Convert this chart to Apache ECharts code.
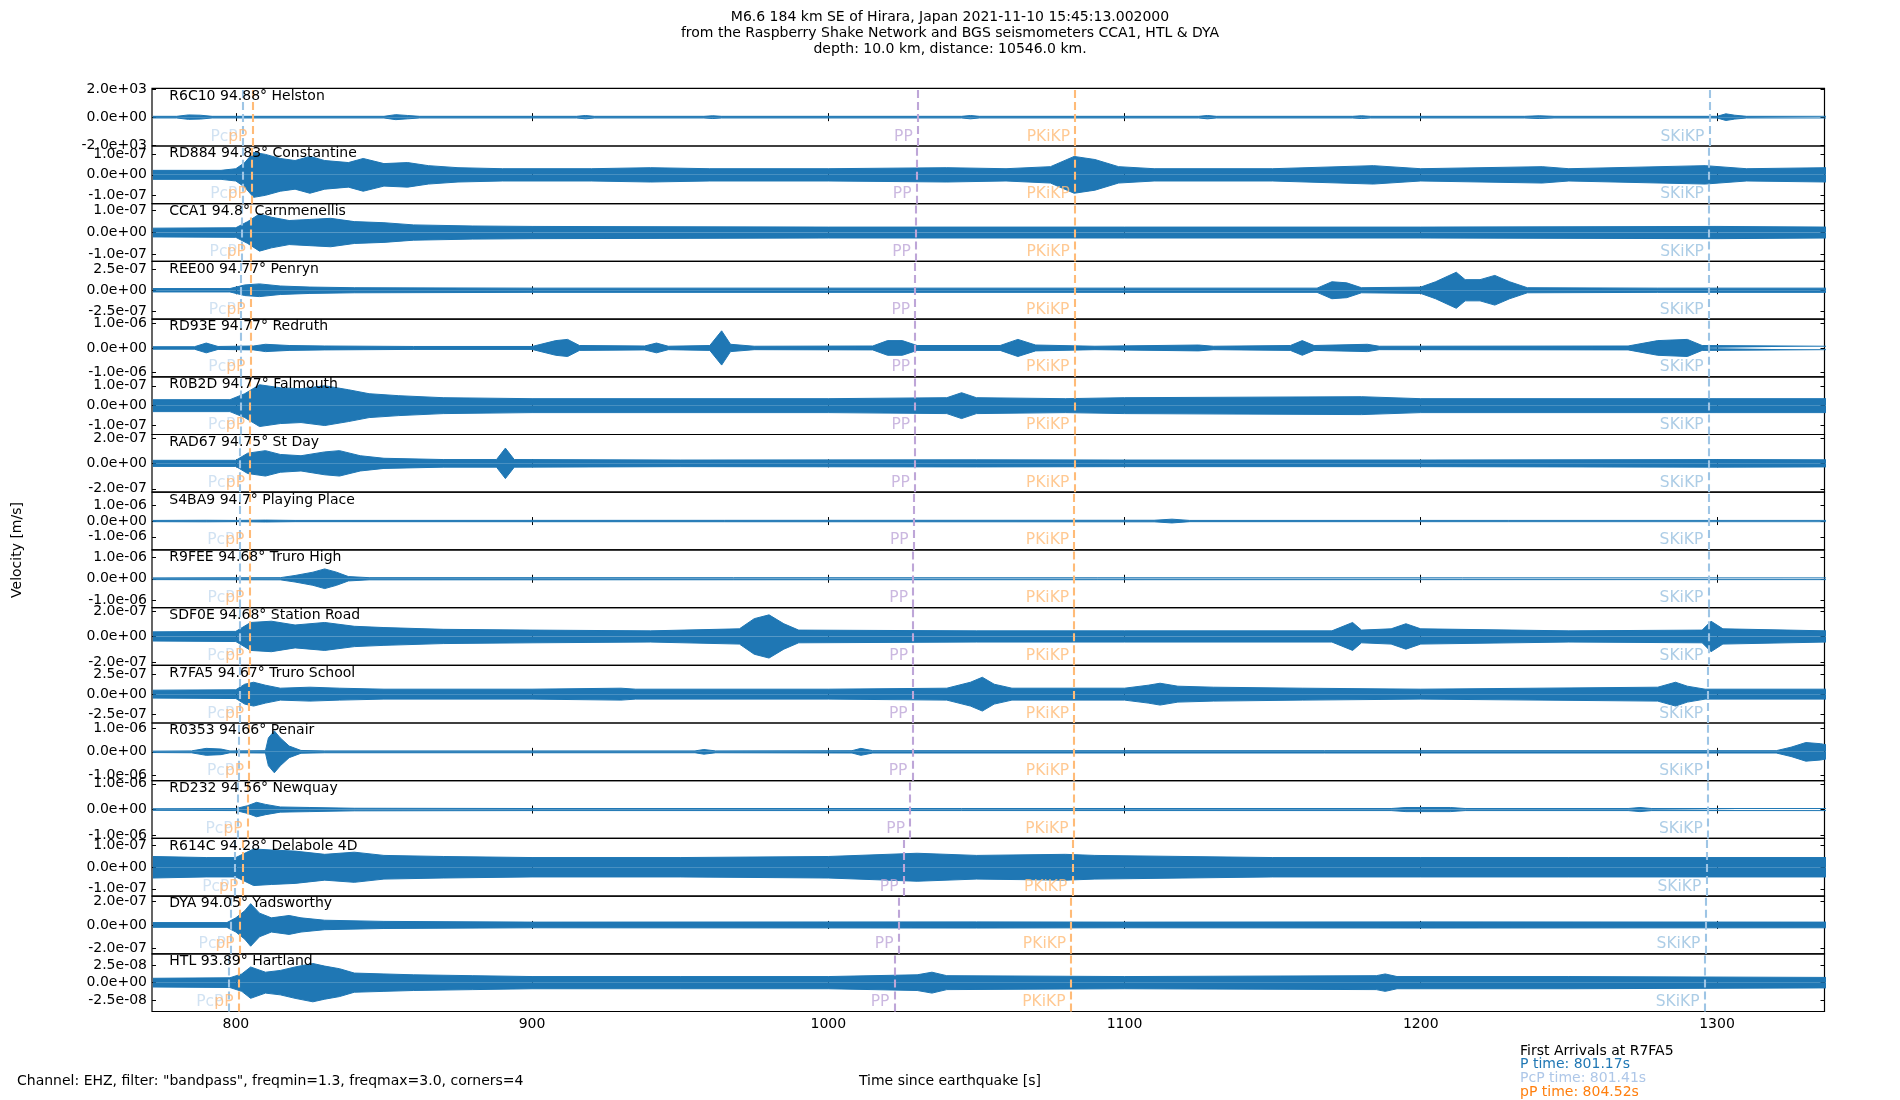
<!DOCTYPE html>
<html><head><meta charset="utf-8">
<script src="https://cdn.jsdelivr.net/npm/echarts@6/dist/echarts.min.js"></script>
<style>html,body{margin:0;padding:0;background:#fff}#c{width:1900px;height:1100px}</style>
</head><body><div id="c"></div>
<script>
// ---------------- data ----------------
const stations = ['R6C10','RD884','CCA1','REE00','RD93E','R0B2D','RAD67','S4BA9','R9FEE','SDF0E','R7FA5','R0353','RD232','R614C','DYA','HTL'];
const distances = ['94.88','94.83','94.8','94.77','94.77','94.77','94.75','94.7','94.68','94.68','94.67','94.66','94.56','94.28','94.05','93.89'];
const places = ['Helston','Constantine','Carnmenellis','Penryn','Redruth','Falmouth','St Day','Playing Place','Truro High','Station Road','Truro School','Penair','Newquay','Delabole 4D','Yadsworthy','Hartland'];
const yTick = [2.0e3,1e-7,1e-7,2.5e-7,1e-6,1e-7,2e-7,1e-6,1e-6,2e-7,2.5e-7,1e-6,1e-6,1e-7,2e-7,2.5e-8];
const yLimit = [2.08e3,1.41e-7,1.32e-7,3.4e-7,1.18e-6,1.45e-7,2.27e-7,1.83e-6,1.32e-6,2.27e-7,3.63e-7,1.24e-6,1.12e-6,1.34e-7,2.44e-7,4.14e-8];
const xTicks = [800,900,1000,1100,1200,1300];
const xRange = [771.7,1336.3];
// arrival times per panel [s]
const tP     = [802.3,802.2,802.0,801.7,801.6,801.5,801.4,801.2,801.3,801.2,801.2,801.1,800.6,799.5,798.3,797.5];
const tpP    = [805.6,805.4,805.1,805.0,804.9,804.8,804.8,804.6,804.6,804.6,804.5,804.5,804.0,802.5,801.3,800.9];
const tPP    = [1030.2,1029.8,1029.6,1029.3,1029.3,1029.3,1029.2,1028.8,1028.6,1028.6,1028.5,1028.4,1027.6,1025.4,1023.7,1022.3];
const tPKiKP = [1083.3,1083.2,1083.2,1083.1,1083.1,1083.1,1083.1,1083.0,1083.0,1083.0,1083.0,1083.0,1082.8,1082.4,1082.0,1081.8];
const tSKiKP = [1297.4,1297.3,1297.3,1297.2,1297.2,1297.2,1297.2,1297.1,1297.1,1297.1,1297.0,1297.0,1296.9,1296.4,1296.1,1295.8];
// trace envelopes: [time s, half-amplitude in units of the panel's tick value]
const envR6C10 = [[772,0.03],[780,0.03],[784,0.08],[788,0.07],[792,0.03],[850,0.03],[854,0.09],[858,0.06],[862,0.03],[915,0.03],[918,0.06],[921,0.03],[958,0.03],[961,0.05],[964,0.03],[1045,0.03],[1048,0.06],[1051,0.03],[1125,0.03],[1128,0.06],[1131,0.03],[1177,0.03],[1180,0.05],[1183,0.03],[1235,0.03],[1240,0.05],[1245,0.03],[1300,0.03],[1303,0.12],[1306,0.07],[1310,0.03],[1337,0.03]];
const envRD884 = [[772,0.22],[795,0.22],[800,0.3],[803,0.6],[806,1.1],[810,1.0],[815,0.8],[820,0.7],[825,0.9],[830,0.7],[838,0.6],[843,0.8],[850,0.55],[858,0.6],[865,0.45],[875,0.35],[890,0.3],[920,0.3],[940,0.35],[960,0.3],[1000,0.3],[1040,0.35],[1060,0.3],[1075,0.4],[1083,0.9],[1090,0.75],[1098,0.4],[1110,0.3],[1150,0.3],[1184,0.45],[1200,0.3],[1241,0.4],[1250,0.3],[1296,0.45],[1310,0.3],[1337,0.35]];
const envCCA1 = [[772,0.2],[800,0.22],[804,0.5],[808,0.85],[812,0.7],[818,0.55],[825,0.6],[832,0.65],[840,0.5],[850,0.45],[860,0.35],[880,0.3],[900,0.28],[1000,0.25],[1100,0.25],[1200,0.25],[1300,0.28],[1337,0.25]];
const envREE00 = [[772,0.08],[798,0.08],[803,0.25],[808,0.3],[815,0.2],[825,0.15],[840,0.12],[900,0.1],[1000,0.1],[1100,0.1],[1165,0.1],[1170,0.4],[1175,0.35],[1180,0.12],[1200,0.15],[1205,0.4],[1212,0.85],[1215,0.5],[1220,0.5],[1225,0.7],[1230,0.4],[1236,0.12],[1280,0.1],[1337,0.1]];
const envRD93E = [[772,0.05],[786,0.05],[790,0.2],[794,0.06],[806,0.08],[810,0.15],[818,0.1],[830,0.08],[860,0.06],[900,0.06],[908,0.3],[912,0.35],[916,0.1],[938,0.08],[942,0.2],[946,0.07],[960,0.1],[964,0.7],[967,0.15],[975,0.07],[1015,0.08],[1020,0.3],[1025,0.3],[1030,0.1],[1058,0.1],[1064,0.35],[1070,0.12],[1090,0.07],[1125,0.12],[1130,0.07],[1156,0.1],[1160,0.3],[1164,0.1],[1182,0.15],[1186,0.07],[1270,0.08],[1280,0.3],[1290,0.35],[1295,0.1],[1337,0.07]];
const envR0B2D = [[772,0.3],[798,0.3],[803,0.6],[808,1.05],[815,0.9],[822,0.85],[830,1.0],[838,0.8],[845,0.6],[855,0.5],[870,0.4],[900,0.35],[1000,0.35],[1040,0.4],[1045,0.65],[1050,0.4],[1080,0.35],[1100,0.4],[1180,0.45],[1200,0.35],[1300,0.35],[1337,0.35]];
const envRAD67 = [[772,0.12],[800,0.12],[804,0.4],[810,0.5],[815,0.35],[822,0.3],[830,0.45],[835,0.5],[842,0.3],[850,0.2],[870,0.15],[888,0.15],[891,0.6],[894,0.15],[950,0.13],[1050,0.14],[1100,0.13],[1200,0.13],[1300,0.15],[1337,0.14]];
const envS4BA9 = [[772,0.04],[790,0.05],[800,0.04],[810,0.06],[820,0.04],[1110,0.05],[1116,0.12],[1122,0.04],[1337,0.04]];
const envR9FEE = [[772,0.04],[815,0.05],[820,0.15],[826,0.3],[830,0.45],[834,0.3],[838,0.1],[845,0.05],[1337,0.04]];
const envSDF0E = [[772,0.18],[800,0.2],[805,0.55],[812,0.6],[820,0.45],[830,0.55],[840,0.4],[850,0.35],[870,0.28],[900,0.25],[940,0.22],[970,0.3],[975,0.7],[980,0.85],[985,0.5],[990,0.25],[1050,0.22],[1100,0.22],[1170,0.22],[1177,0.55],[1180,0.25],[1190,0.3],[1195,0.5],[1200,0.3],[1250,0.22],[1295,0.25],[1298,0.6],[1302,0.3],[1337,0.22]];
const envR7FA5 = [[772,0.2],[800,0.22],[803,0.5],[806,0.6],[810,0.45],[815,0.3],[825,0.35],[835,0.3],[850,0.25],[900,0.25],[930,0.3],[935,0.25],[1000,0.25],[1040,0.3],[1048,0.6],[1052,0.85],[1056,0.5],[1062,0.3],[1100,0.3],[1108,0.45],[1112,0.55],[1118,0.4],[1130,0.35],[1160,0.3],[1200,0.25],[1280,0.35],[1286,0.6],[1290,0.4],[1296,0.25],[1337,0.25]];
const envR0353 = [[772,0.03],[785,0.04],[790,0.15],[795,0.12],[798,0.04],[810,0.05],[811,0.6],[813,0.9],[815,0.6],[818,0.25],[822,0.06],[830,0.04],[955,0.04],[958,0.1],[962,0.04],[1008,0.05],[1011,0.15],[1015,0.05],[1320,0.05],[1325,0.2],[1330,0.4],[1335,0.35],[1337,0.3]];
const envRD232 = [[772,0.03],[800,0.04],[804,0.15],[807,0.28],[810,0.2],[815,0.1],[825,0.08],[840,0.05],[900,0.04],[1190,0.04],[1195,0.08],[1210,0.08],[1215,0.04],[1270,0.04],[1274,0.08],[1278,0.04],[1337,0.04]];
const envR614C = [[772,0.5],[790,0.45],[800,0.45],[806,0.85],[812,0.8],[820,0.75],[830,0.6],[840,0.7],[850,0.55],[870,0.5],[900,0.45],[950,0.45],[1000,0.5],[1030,0.65],[1050,0.55],[1080,0.6],[1090,0.55],[1150,0.45],[1200,0.45],[1250,0.45],[1300,0.45],[1337,0.45]];
const envDYA = [[772,0.1],[797,0.1],[800,0.3],[803,0.6],[805,0.9],[808,0.5],[812,0.3],[818,0.4],[822,0.3],[830,0.2],[850,0.15],[900,0.12],[1050,0.13],[1100,0.12],[1200,0.13],[1337,0.12]];
const envHTL = [[772,0.25],[798,0.28],[802,0.5],[805,0.9],[810,0.6],[815,0.7],[820,0.9],[826,1.1],[830,0.95],[835,0.8],[840,0.55],[850,0.5],[860,0.45],[880,0.4],[900,0.35],[950,0.35],[1000,0.35],[1030,0.45],[1035,0.6],[1040,0.4],[1100,0.35],[1185,0.4],[1188,0.5],[1192,0.35],[1250,0.35],[1337,0.3]];
const envelopes = [envR6C10,envRD884,envCCA1,envREE00,envRD93E,envR0B2D,envRAD67,envS4BA9,envR9FEE,envSDF0E,envR7FA5,envR0353,envRD232,envR614C,envDYA,envHTL];
const titleLines = ['M6.6 184 km SE of Hirara, Japan 2021-11-10 15:45:13.002000','from the Raspberry Shake Network and BGS seismometers CCA1, HTL & DYA','depth: 10.0 km, distance: 10546.0 km.'];
const firstArrivals = ['First Arrivals at R7FA5','P time: 801.17s','PcP time: 801.41s','pP time: 804.52s'];

// ---------------- styling / layout ----------------
const FONT = '"DejaVu Sans", sans-serif';
const TRACE = '#1f77b4';
const phaseStyle = {
  P:     {line:'#9ec5e5', label:'#c6dbef', name:'PcP'},
  pP:    {line:'#ffbb78', label:'#ffb773', name:'pP'},
  PP:    {line:'#bea6d8', label:'#bea6d8', name:'PP'},
  PKiKP: {line:'#ffbb78', label:'#ffbb78', name:'PKiKP'},
  SKiKP: {line:'#9ec5e5', label:'#98c0e0', name:'SKiKP'}
};
const L = 152, R = 1824.5, T0 = 88.3, PH = 57.7;
function fmtExp(v){
  if (Math.abs(v) < 1e-30) return '0.0e+00';
  const s = v.toExponential(1).split('e');
  let e = s[1]; const sign = e[0] === '-' ? '-' : '+';
  e = e.replace(/[+-]/,''); if (e.length < 2) e = '0' + e;
  return s[0] + 'e' + sign + e;
}

const grid = [], xAxis = [], yAxis = [], series = [], graphic = [];
for (let i = 0; i < stations.length; i++) {
  const top = T0 + i * PH;
  grid.push({left:L, top:top, width:R-L, height:PH, show:true, borderColor:'#000', borderWidth:1.2, backgroundColor:'transparent'});
  const A = yTick[i], Y = yLimit[i];
  const xBase = {gridIndex:i, type:'value', min:xRange[0], max:xRange[1], axisLine:{show:false}, splitLine:{show:false},
    axisTick:{show:true, inside:true, length:4, customValues:xTicks, lineStyle:{color:'#000', width:1}}};
  xAxis.push(Object.assign({}, xBase, {position:'bottom',
    axisLabel:{show:i===stations.length-1, customValues:xTicks, margin:6, fontSize:14, color:'#000', fontFamily:FONT, formatter: v => String(Math.round(v))}}));
  xAxis.push(Object.assign({}, xBase, {position:'top', axisLabel:{show:false}}));
  const yVals = [-A, 0, A];
  const yBase = {gridIndex:i, type:'value', min:-Y, max:Y, axisLine:{show:false}, splitLine:{show:false},
    axisTick:{show:true, inside:true, length:4, customValues:yVals, lineStyle:{color:'#000', width:1}}};
  yAxis.push(Object.assign({}, yBase, {position:'left',
    axisLabel:{show:true, customValues:yVals, margin:5, fontSize:14, color:'#000', fontFamily:FONT, formatter:fmtExp}}));
  yAxis.push(Object.assign({}, yBase, {position:'right', axisLabel:{show:false}}));
  const xi = 2*i, yi = 2*i;
  const env = envelopes[i];
  const up = env.map(p => [p[0], p[1]*A]);
  const dn = env.map(p => [p[0], -p[1]*A]);
  const lineBase = {type:'line', xAxisIndex:xi, yAxisIndex:yi, symbol:'none', showSymbol:false, silent:true,
    lineStyle:{color:TRACE, width:1}, areaStyle:{color:TRACE, opacity:1, origin:0}, z:2, clip:true};
  const phases = [['P',tP[i]],['pP',tpP[i]],['PP',tPP[i]],['PKiKP',tPKiKP[i]],['SKiKP',tSKiKP[i]]];
  series.push(Object.assign({}, lineBase, {data:up,
    markLine:{silent:true, symbol:['none','none'], animation:false, label:{show:false},
      data: phases.map(ph => ({xAxis:ph[1], lineStyle:{color:phaseStyle[ph[0]].line, type:[8,4], width:2.1}}))}}));
  series.push(Object.assign({}, lineBase, {data:dn}));
  const yl = -0.67 * Y;
  series.push({type:'scatter', xAxisIndex:xi, yAxisIndex:yi, symbolSize:0, silent:true, z:5,
    data: phases.map(ph => ({value:[ph[1], yl], label:{show:true, position:'left', distance:5, formatter:phaseStyle[ph[0]].name,
      color:phaseStyle[ph[0]].label, fontSize:15.5, fontFamily:FONT}}))});
  graphic.push({type:'text', x:169.3, y:top+7.7, z:100, silent:true,
    style:{text:stations[i]+' '+distances[i]+'\u00b0 '+places[i], font:'14px '+FONT, fill:'#000', textAlign:'left', textVerticalAlign:'middle'}});
}
titleLines.forEach((t, k) => graphic.push({type:'text', x:950, y:17+k*16, z:100, silent:true,
  style:{text:t, font:'14px '+FONT, fill:'#000', textAlign:'center', textVerticalAlign:'middle'}}));
graphic.push({type:'text', x:17, y:550, rotation:Math.PI/2, z:100, silent:true,
  style:{text:'Velocity [m/s]', font:'14px '+FONT, fill:'#000', textAlign:'center', textVerticalAlign:'middle'}});
graphic.push({type:'text', x:950, y:1081, z:100, silent:true,
  style:{text:'Time since earthquake [s]', font:'14px '+FONT, fill:'#000', textAlign:'center', textVerticalAlign:'middle'}});
graphic.push({type:'text', x:17, y:1081, z:100, silent:true,
  style:{text:'Channel: EHZ, filter: "bandpass", freqmin=1.3, freqmax=3.0, corners=4', font:'14px '+FONT, fill:'#000', textAlign:'left', textVerticalAlign:'middle'}});
const faColors = ['#000000','#1f77b4','#aec7e8','#ff7f0e'];
firstArrivals.forEach((t, k) => graphic.push({type:'text', x:1520, y:1051+k*13.7, z:100, silent:true,
  style:{text:t, font:'14px '+FONT, fill:faColors[k], textAlign:'left', textVerticalAlign:'middle'}}));

const chart = echarts.init(document.getElementById('c'), null, {renderer:'canvas'});
chart.setOption({animation:false, backgroundColor:'#fff', grid, xAxis, yAxis, series, graphic});
</script></body></html>
